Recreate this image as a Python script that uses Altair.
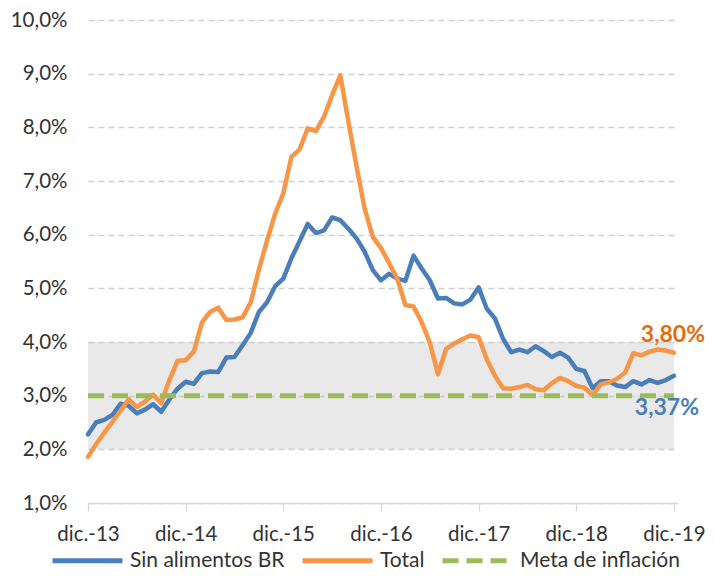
import altair as alt
import pandas as pd

# ---------------- data ----------------
tick_labels = ["dic.-13", "dic.-14", "dic.-15", "dic.-16", "dic.-17", "dic.-18", "dic.-19"]
months = list(range(73))  # 0 = dic.-13 ... 72 = dic.-19

sin_alimentos = [
    2.28,
    2.50, 2.55, 2.64, 2.85, 2.81, 2.67, 2.74, 2.84, 2.70, 2.93, 3.13, 3.26,
    3.22, 3.42, 3.45, 3.44, 3.71, 3.72, 3.94, 4.17, 4.56, 4.74, 5.04, 5.18,
    5.56, 5.88, 6.20, 6.03, 6.08, 6.32, 6.27, 6.11, 5.93, 5.68, 5.34, 5.15,
    5.27, 5.18, 5.14, 5.61, 5.37, 5.15, 4.81, 4.82, 4.72, 4.70, 4.79, 5.02,
    4.62, 4.44, 4.06, 3.81, 3.86, 3.81, 3.92, 3.83, 3.72, 3.80, 3.71, 3.50,
    3.46, 3.14, 3.27, 3.27, 3.19, 3.16, 3.27, 3.21, 3.29, 3.24, 3.29, 3.37,
]
total = [
    1.86,
    2.10, 2.31, 2.51, 2.72, 2.93, 2.79, 2.89, 3.02, 2.86, 3.29, 3.65, 3.66,
    3.82, 4.36, 4.56, 4.64, 4.41, 4.42, 4.46, 4.74, 5.35, 5.89, 6.39, 6.77,
    7.45, 7.59, 7.98, 7.93, 8.20, 8.60, 8.97, 8.10, 7.27, 6.48, 5.96, 5.75,
    5.47, 5.18, 4.69, 4.66, 4.37, 3.99, 3.40, 3.87, 3.97, 4.05, 4.12, 4.09,
    3.68, 3.37, 3.14, 3.13, 3.16, 3.20, 3.12, 3.10, 3.23, 3.33, 3.27, 3.18,
    3.15, 3.01, 3.21, 3.25, 3.31, 3.43, 3.79, 3.75, 3.82, 3.86, 3.84, 3.80,
]
meta_months = [0, 72]
meta_values = [3.0, 3.0]
band_months = [0, 72]
band_range = [2.0, 4.0]

series_names = ["Sin alimentos BR", "Total", "Meta de inflación"]
series_colors = ["#4a7ebb", "#f79646", "#9bbb59"]
annot_colors = ["#4a7ebb", "#e46c0a"]

# ---------------- tables ----------------
df_blue = pd.DataFrame({"m": months, "v": sin_alimentos, "serie": series_names[0]})
df_orange = pd.DataFrame({"m": months, "v": total, "serie": series_names[1]})
df_meta = pd.DataFrame({"m": meta_months, "v": meta_values, "serie": series_names[2]})
df_band = pd.DataFrame({"m0": [band_months[0]], "m1": [band_months[1]],
                        "lo": [band_range[0]], "hi": [band_range[1]]})
df_end_total = pd.DataFrame({"m": [months[-1]], "v": [total[-1]]})
df_end_sin = pd.DataFrame({"m": [months[-1]], "v": [sin_alimentos[-1]]})

FONT = "Lato"
LABEL_COLOR = "#333333"

label_array = "[" + ",".join("'" + t + "'" for t in tick_labels) + "]"

x_scale = alt.Scale(domain=[0, 72.5], nice=False, zero=False)
y_scale = alt.Scale(domain=[1, 10], nice=False, zero=False)

x_axis = alt.Axis(
    values=[0, 12, 24, 36, 48, 60, 72],
    labelExpr=label_array + "[floor(datum.value / 12)]",
    grid=False,
    domainColor="#d9d9d9",
    domainWidth=1.3,
    tickColor="#d9d9d9",
    tickWidth=1.3,
    tickSize=8,
    labelPadding=13,
    labelFont=FONT,
    labelFontSize=20.5,
    labelColor=LABEL_COLOR,
    labelFlush=False,
)
y_axis = alt.Axis(
    values=[1, 2, 3, 4, 5, 6, 7, 8, 9, 10],
    labelExpr="replace(format(datum.value, '.1f'), '.', ',') + '%'",
    grid=True,
    gridColor="#d0d0d0",
    gridDash=[6, 4],
    gridWidth=1.3,
    domain=False,
    ticks=False,
    labelPadding=21,
    labelFont=FONT,
    labelFontSize=20.5,
    labelColor=LABEL_COLOR,
)

X = alt.X("m:Q", scale=x_scale, axis=x_axis, title=None)
Y = alt.Y("v:Q", scale=y_scale, axis=y_axis, title=None)

legend = alt.Legend(
    orient="none",
    legendX=-38,
    legendY=503,
    direction="horizontal",
    title=None,
    symbolType="stroke",
    symbolSize=4900,
    symbolStrokeWidth=5,
    labelFont=FONT,
    labelFontSize=21,
    labelColor=LABEL_COLOR,
    labelOffset=5,
    labelLimit=400,
    columnPadding=7,
    padding=0,
)

color_enc = alt.Color("serie:N",
                      scale=alt.Scale(domain=series_names, range=series_colors),
                      legend=legend)
dash_enc = alt.StrokeDash("serie:N",
                          scale=alt.Scale(domain=series_names,
                                          range=[[1, 0], [1, 0], [16, 8]]),
                          legend=legend)

band = alt.Chart(df_band).mark_rect(fill="#c4c4c4", opacity=0.38).encode(
    x=alt.X("m0:Q", scale=x_scale, axis=x_axis, title=None),
    x2="m1:Q",
    y=alt.Y("lo:Q", scale=y_scale, axis=y_axis, title=None),
    y2="hi:Q",
)

blue = alt.Chart(df_blue).mark_line(strokeWidth=4.5, strokeJoin="round", strokeCap="round").encode(
    x=X, y=Y, color=color_enc)
orange = alt.Chart(df_orange).mark_line(strokeWidth=4.5, strokeJoin="round", strokeCap="round").encode(
    x=X, y=Y, color=color_enc)
meta = alt.Chart(df_meta).mark_line(strokeWidth=5, strokeCap="butt").encode(
    x=X, y=Y, color=color_enc, strokeDash=dash_enc)

lbl_expr = "replace(format(datum.v, '.2f'), '.', ',') + '%'"
txt_total = alt.Chart(df_end_total).transform_calculate(lbl=lbl_expr).mark_text(
    font=FONT, fontSize=23, fontWeight="bold", dx=-1, dy=-18, align="center", baseline="middle"
).encode(x=X, y=Y, text="lbl:N", color=alt.value(annot_colors[1]))
txt_sin = alt.Chart(df_end_sin).transform_calculate(lbl=lbl_expr).mark_text(
    font=FONT, fontSize=23, fontWeight="bold", dx=-7, dy=32, align="center", baseline="middle"
).encode(x=X, y=Y, text="lbl:N", color=alt.value(annot_colors[0]))

chart = alt.layer(band, blue, orange, meta, txt_total, txt_sin).properties(
    width=590,
    height=483,
    autosize=alt.AutoSizeParams(type="none"),
    padding={"left": 80, "top": 12, "right": 27, "bottom": 67},
).configure(font=FONT).configure_view(stroke=None)

chart.save("out.html", embed_options={"renderer": "svg", "actions": False})
